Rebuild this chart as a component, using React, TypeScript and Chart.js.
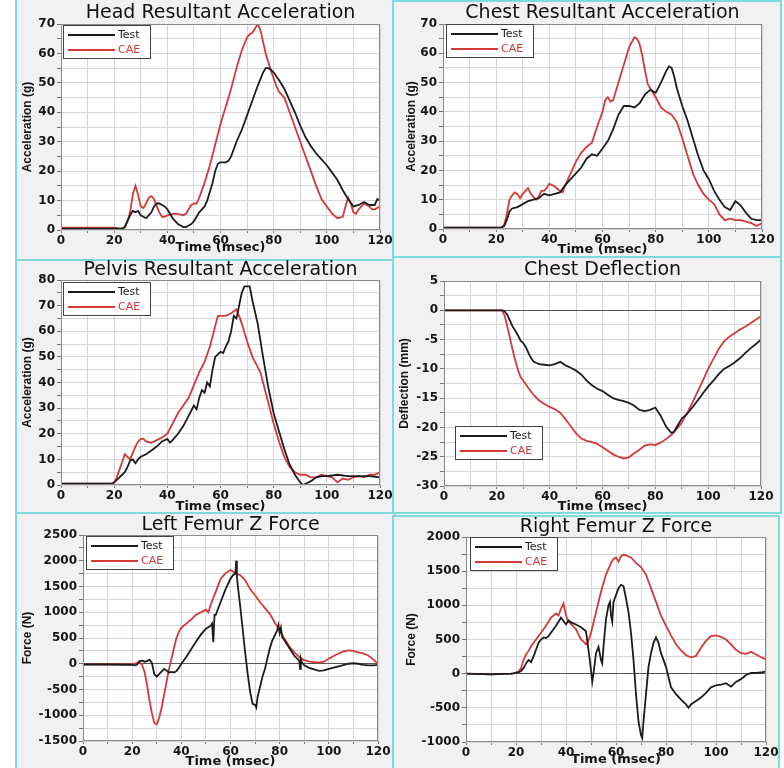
import React, { useEffect, useRef } from 'react';
import { Chart, registerables } from 'chart.js';
Chart.register(...registerables);

type Pt = [number, number];

const seriesNames = ['Test', 'CAE'];
const seriesColors = ['#1c1c1c', '#d23a3a'];
const timeMin = 0;
const timeMax = 120;
const timeStep = 10;
const timeLabelEvery = 20;

const headTest: Pt[] = [[0,0.5],[10,0.5],[20,0.5],[22,0.5],[23,0.5],[24,1],[25,3],[26,5],[27,6.5],[28,6],[29,6.5],[30,5],[31,4.5],[32,4],[33,5],[34,6],[35,8],[36,9],[37,9],[38,8.5],[39,8],[40,7],[41,5.5],[42,4],[43,3],[44,2],[45,1.5],[46,1],[47,1],[48,1.5],[49,2],[50,3],[51,4.5],[52,6],[53,7],[54,8],[55,10],[56,13],[57,16],[58,20],[59,22.5],[60,23],[61,23],[62,23],[63,23.5],[64,25],[66,30],[68,34],[70,39],[72,44],[74,49],[76,53.5],[77,55],[78,55],[79,54.5],[80,53.5],[82,51],[84,48],[86,44],[88,40],[90,35.5],[92,31.5],[94,28.5],[96,26],[98,24],[100,22],[102,19.5],[104,17],[106,13.5],[108,10.5],[110,8],[112,8.5],[114,9.5],[116,8.5],[118,8.5],[119,10.5],[120,10]];
const headCae: Pt[] = [[0,0.8],[10,0.8],[20,0.8],[22,0.5],[23,0.5],[24,1],[25,3],[26,6],[27,12],[28,15],[29,12],[30,8],[31,7.5],[32,9],[33,11],[34,11.5],[35,10.5],[36,8],[37,6],[38,4.5],[39,4.5],[40,5],[42,5.5],[44,5.5],[46,5],[47,5.5],[48,7],[49,8.5],[50,9],[51,9],[52,11],[54,16],[56,22],[58,29],[60,36],[62,42],[64,48],[66,55],[68,61],[70,65.5],[71,66.5],[72,67],[73,68.5],[74,70],[75,68],[76,64],[77,60],[78,57],[79,54],[80,51.5],[81,49],[82,47],[83,46],[84,45],[86,40],[88,35],[90,30],[92,25],[94,20],[96,15],[98,10.5],[100,8],[102,5.5],[104,4],[106,4.5],[107,8],[108,11],[109,9],[110,6],[111,5.5],[112,7],[113,8],[114,9],[115,8.5],[116,8],[117,7],[118,7],[120,8]];

const chestTest: Pt[] = [[0,0.5],[10,0.5],[20,0.5],[22,0.5],[23,1],[24,3],[25,6],[26,7],[28,7.5],[30,8.5],[32,9.5],[34,10],[36,10.5],[38,12],[40,11.5],[42,12],[44,12.5],[46,15],[48,17],[50,19],[52,21],[54,24],[56,25.5],[58,25],[60,27.5],[62,30],[64,34],[66,39],[68,42],[70,42],[72,41.5],[74,43],[76,46],[78,47.5],[80,46.5],[82,50],[84,54],[85,55.5],[86,55],[87,52],[88,48],[90,42],[92,37],[94,31],[96,25],[98,20],[100,17],[102,13],[104,10],[106,7.5],[108,6.5],[110,9.5],[112,8],[114,5.5],[116,3.5],[118,3],[120,3]];
const chestCae: Pt[] = [[0,0.5],[10,0.5],[20,0.5],[22,0.5],[23,1.5],[24,5],[25,10],[26,11.5],[27,12.5],[28,12],[29,10.5],[30,12],[31,13],[32,14],[33,12],[34,11],[35,10],[36,11],[37,13],[38,13],[39,14],[40,15.5],[41,15],[42,14.5],[44,13],[45,12.5],[46,15],[48,19],[50,23],[52,26],[54,28],[56,29.5],[58,35],[60,40],[61,44],[62,45],[63,43.5],[64,44],[66,50],[68,56],[70,62],[72,65.5],[73,65],[74,63],[75,59],[76,54],[77,49.5],[78,48],[80,45],[82,41.5],[84,40],[86,39],[88,36.5],[90,31],[92,25],[94,19],[96,15],[98,12],[100,10],[102,8.5],[104,5],[106,3],[108,3.5],[110,3],[112,3],[114,2.5],[116,2],[118,1],[120,2]];

const pelvisTest: Pt[] = [[0,0.5],[10,0.5],[19,0.5],[20,1],[21,2],[22,3],[23,4],[24,5],[25,7],[26,9.5],[27,10],[28,8.5],[29,10],[30,11],[32,12],[34,13.5],[36,15],[38,17],[40,18],[41,16.5],[42,17.5],[44,20],[46,23],[48,27],[50,31],[51,29.5],[52,34],[53,37],[54,36],[55,40],[56,38.5],[57,45],[58,50],[59,51],[60,52],[61,51.5],[62,54],[63,56],[64,60],[65,66],[66,65],[67,70],[68,75],[69,77.5],[70,77.5],[71,77.5],[72,72],[74,63],[76,50],[78,38],[80,28],[82,21],[84,14],[86,8],[88,4],[90,1],[91,0],[92,0.5],[94,1.5],[96,3],[98,3.5],[100,3.5],[104,4],[108,3.5],[112,3.5],[116,3.5],[120,3]];
const pelvisCae: Pt[] = [[0,0.5],[10,0.5],[19,0.5],[20,1],[21,3],[22,6],[23,9],[24,12],[25,11],[26,10],[27,12.5],[28,15],[29,17],[30,18],[31,18],[32,17],[34,16.5],[36,17.5],[38,18.5],[40,20],[42,24],[44,28],[46,31],[48,34],[50,39],[52,44],[54,48],[56,54],[58,62],[59,66],[60,66],[62,66],[64,67],[66,68.5],[67,66],[68,63],[70,56],[72,50],[74,46],[75,44],[76,40],[78,32],[80,24],[82,17],[84,11],[86,7],[88,5],[90,4],[92,4],[94,3],[96,3],[98,4],[100,3.5],[102,3],[104,1],[106,2.5],[108,2],[110,3],[112,3.5],[114,3],[116,4],[118,4],[120,5]];

const deflTest: Pt[] = [[0,0],[10,0],[20,0],[22,0],[23,-0.2],[24,-0.8],[25,-1.8],[26,-2.8],[27,-3.5],[28,-4.3],[29,-5.2],[30,-5.6],[31,-6.3],[32,-7.3],[33,-8.2],[34,-8.8],[35,-9],[36,-9.2],[38,-9.3],[40,-9.4],[42,-9.2],[44,-8.8],[46,-9.4],[48,-9.8],[50,-10.3],[52,-11],[54,-12],[56,-12.8],[58,-13.4],[60,-13.8],[62,-14.4],[64,-15],[66,-15.3],[68,-15.5],[70,-15.8],[72,-16.3],[74,-17],[76,-17.2],[78,-17],[80,-16.6],[82,-18],[84,-19.8],[86,-20.9],[87,-20.8],[88,-20],[90,-18.5],[92,-17.7],[94,-16.6],[96,-15.4],[98,-14.2],[100,-13],[102,-12],[104,-10.9],[106,-10],[108,-9.5],[110,-8.9],[112,-8.2],[114,-7.3],[116,-6.5],[118,-5.8],[120,-5]];
const deflCae: Pt[] = [[0,0],[10,0],[20,0],[22,0],[23,-1],[24,-2.8],[25,-4.8],[26,-6.8],[27,-8.6],[28,-10.2],[29,-11.4],[30,-12],[32,-13.3],[34,-14.5],[36,-15.4],[38,-16],[40,-16.5],[42,-16.9],[44,-17.5],[46,-18.6],[48,-19.8],[50,-21],[52,-21.9],[54,-22.3],[56,-22.5],[58,-22.8],[60,-23.4],[62,-24],[64,-24.6],[66,-25],[68,-25.3],[70,-25.1],[72,-24.4],[74,-23.8],[76,-23.1],[78,-22.9],[80,-23],[82,-22.6],[84,-22],[86,-21.3],[88,-20.3],[90,-19.2],[92,-17.6],[94,-15.8],[96,-13.9],[98,-12],[100,-10],[102,-8.3],[104,-6.6],[106,-5.3],[108,-4.5],[110,-3.9],[112,-3.3],[114,-2.8],[116,-2.2],[118,-1.6],[120,-1]];

const lFemurTest: Pt[] = [[0,-15],[10,-15],[20,-20],[21,-30],[22,-20],[23,50],[24,60],[25,40],[26,50],[27,80],[28,20],[29,-200],[30,-250],[31,-200],[32,-150],[33,-100],[34,-130],[35,-170],[36,-160],[37,-170],[38,-140],[39,-80],[40,0],[42,130],[44,280],[46,430],[48,570],[50,680],[52,740],[52.5,780],[53,420],[53.5,950],[54,950],[56,1200],[58,1450],[60,1650],[61,1720],[62,1750],[62.3,2000],[62.6,1700],[63,1500],[64,1100],[65,650],[66,200],[67,-200],[68,-550],[69,-780],[70,-800],[70.5,-850],[71,-650],[72,-450],[73,-250],[74,-100],[75,100],[76,300],[77,450],[78,550],[79,650],[79.5,750],[80,600],[80.5,700],[81,520],[82,450],[84,300],[86,150],[88,60],[88.3,-100],[88.6,100],[89,30],[90,-30],[92,-80],[94,-110],[96,-140],[98,-130],[100,-100],[104,-50],[108,0],[110,10],[112,0],[114,-20],[116,-30],[118,-30],[120,-20]];
const lFemurCae: Pt[] = [[0,-10],[10,-10],[20,-10],[21,0],[22,20],[23,30],[24,-20],[25,-150],[26,-400],[27,-700],[28,-950],[29,-1150],[30,-1180],[31,-1050],[32,-850],[33,-600],[34,-350],[35,-100],[36,100],[37,300],[38,500],[39,620],[40,700],[42,780],[44,860],[46,950],[48,1000],[50,1050],[51,1000],[52,1150],[54,1400],[56,1650],[58,1760],[60,1820],[62,1760],[64,1720],[66,1620],[68,1450],[70,1330],[72,1200],[74,1080],[76,970],[78,800],[80,650],[82,480],[84,330],[86,220],[88,130],[90,70],[92,40],[94,30],[96,20],[98,40],[100,100],[102,150],[104,200],[106,240],[108,260],[110,250],[112,220],[114,200],[116,160],[118,90],[119,40],[120,0]];

const rFemurTest: Pt[] = [[0,0],[10,-10],[18,0],[19,5],[20,15],[21,20],[22,40],[23,80],[24,150],[25,200],[26,170],[27,250],[28,350],[29,450],[30,500],[31,530],[32,520],[33,550],[34,600],[35,650],[36,700],[37,760],[38,820],[39,770],[40,720],[41,780],[42,750],[44,720],[46,680],[47,650],[48,620],[49,350],[50,50],[50.5,-120],[51,0],[52,300],[53,390],[54,200],[54.5,150],[55,400],[56,800],[57,1000],[57.6,1050],[58,850],[58.5,760],[59,1050],[60,1150],[61,1250],[62,1300],[63,1280],[64,1100],[65,900],[66,600],[67,200],[68,-300],[69,-700],[70,-900],[70.5,-940],[71,-700],[72,-300],[73,100],[74,300],[75,450],[76,530],[77,450],[78,300],[80,100],[82,-200],[84,-300],[86,-380],[88,-450],[89,-500],[90,-450],[92,-400],[94,-350],[96,-280],[98,-200],[100,-170],[102,-160],[104,-140],[106,-190],[108,-120],[110,-80],[112,-20],[114,10],[116,10],[118,20],[120,30]];
const rFemurCae: Pt[] = [[0,0],[10,-10],[18,0],[19,5],[20,15],[21,30],[22,80],[23,200],[24,280],[25,330],[26,400],[28,500],[30,600],[32,700],[34,820],[36,880],[37,850],[38,950],[39,1030],[40,850],[41,760],[42,730],[44,650],[46,500],[47,470],[48,430],[49,480],[50,600],[52,900],[54,1200],[56,1450],[58,1620],[59,1680],[60,1700],[61,1640],[62,1720],[63,1740],[64,1730],[66,1700],[68,1620],[70,1560],[72,1450],[74,1250],[76,1050],[78,850],[80,700],[82,560],[84,430],[86,340],[88,270],[90,240],[92,260],[94,380],[96,480],[98,550],[100,560],[102,540],[104,500],[106,430],[108,350],[110,300],[112,290],[114,320],[116,280],[118,240],[120,210]];

const FONT = '"DejaVu Sans", "Liberation Sans", sans-serif';
const AXIS_FONT = '"Liberation Sans", Arial, sans-serif';

type Box = { x: number; y: number; w: number; h: number };
type PanelCfg = {
  title: string;
  yTitle: string;
  yMin: number; yMax: number; yStep: number; yLabelEvery: number;
  zeroLine: boolean;
  series: Pt[][];
  panel: Box;
  canvas: Box;
  plot: { L: number; T: number; R: number; B: number };
  titleY: number; xTitleY: number; yTitleX: number;
  legend: { corner: 'tl' | 'bl'; dx: number; dy: number };
};

const panels: PanelCfg[] = [
  { title: 'Head Resultant Acceleration', yTitle: 'Acceleration (g)', yMin: 0, yMax: 70, yStep: 5, yLabelEvery: 10, zeroLine: false,
    series: [headTest, headCae], panel: { x: 15, y: -2, w: 381, h: 263 }, canvas: { x: 16, y: 0, w: 380, h: 262 },
    plot: { L: 61, T: 24, R: 380, B: 230 }, titleY: 13, xTitleY: 248, yTitleX: 28, legend: { corner: 'tl', dx: 2, dy: 1 } },
  { title: 'Chest Resultant Acceleration', yTitle: 'Acceleration (g)', yMin: 0, yMax: 70, yStep: 5, yLabelEvery: 10, zeroLine: false,
    series: [chestTest, chestCae], panel: { x: 392, y: 0, w: 390, h: 259 }, canvas: { x: 392, y: 0, w: 392, h: 262 },
    plot: { L: 443, T: 24, R: 762, B: 229 }, titleY: 13, xTitleY: 250, yTitleX: 412, legend: { corner: 'tl', dx: 3, dy: 0 } },
  { title: 'Pelvis Resultant Acceleration', yTitle: 'Acceleration (g)', yMin: 0, yMax: 80, yStep: 5, yLabelEvery: 10, zeroLine: false,
    series: [pelvisTest, pelvisCae], panel: { x: 15, y: 259, w: 381, h: 256 }, canvas: { x: 16, y: 258, w: 380, h: 257 },
    plot: { L: 61, T: 280, R: 380, B: 485 }, titleY: 270, xTitleY: 507, yTitleX: 28, legend: { corner: 'tl', dx: 2, dy: 2 } },
  { title: 'Chest Deflection', yTitle: 'Deflection (mm)', yMin: -30, yMax: 5, yStep: 2.5, yLabelEvery: 5, zeroLine: true,
    series: [deflTest, deflCae], panel: { x: 392, y: 256, w: 390, h: 258 }, canvas: { x: 392, y: 258, w: 392, h: 257 },
    plot: { L: 444, T: 281, R: 761, B: 486 }, titleY: 270, xTitleY: 507, yTitleX: 405, legend: { corner: 'bl', dx: 11, dy: 26 } },
  { title: 'Left Femur Z Force', yTitle: 'Force (N)', yMin: -1500, yMax: 2500, yStep: 250, yLabelEvery: 500, zeroLine: true,
    series: [lFemurTest, lFemurCae], panel: { x: 15, y: 512, w: 381, h: 260 }, canvas: { x: 16, y: 513, w: 380, h: 258 },
    plot: { L: 83, T: 535, R: 378, B: 741 }, titleY: 525, xTitleY: 762, yTitleX: 28, legend: { corner: 'tl', dx: 3, dy: 1 } },
  { title: 'Right Femur Z Force', yTitle: 'Force (N)', yMin: -1000, yMax: 2000, yStep: 250, yLabelEvery: 500, zeroLine: true,
    series: [rFemurTest, rFemurCae], panel: { x: 392, y: 515, w: 388, h: 257 }, canvas: { x: 392, y: 513, w: 392, h: 258 },
    plot: { L: 466, T: 537, R: 766, B: 742 }, titleY: 527, xTitleY: 760, yTitleX: 412, legend: { corner: 'tl', dx: 4, dy: 0 } },
];

const framePlugin = {
  id: 'boxLegend',
  beforeDraw(chart: any) {
    const { ctx, chartArea: a } = chart;
    ctx.save();
    ctx.fillStyle = '#ffffff';
    ctx.fillRect(a.left, a.top, a.right - a.left, a.bottom - a.top);
    ctx.restore();
  },
  afterDatasetsDraw(chart: any, _args: any, opts: any) {
    const { ctx, chartArea: a } = chart;
    ctx.save();
    ctx.strokeStyle = '#8a8a8a';
    ctx.lineWidth = 1;
    ctx.strokeRect(Math.round(a.left) + 0.5, Math.round(a.top) + 0.5, Math.round(a.right - a.left) - 1, Math.round(a.bottom - a.top) - 1);
    const w = 88, h = 34;
    const x = Math.round(a.left + opts.dx);
    const y = Math.round(opts.corner === 'bl' ? a.bottom - opts.dy - h : a.top + opts.dy);
    ctx.fillStyle = '#ffffff';
    ctx.fillRect(x, y, w, h);
    ctx.strokeStyle = '#444444';
    ctx.strokeRect(x + 0.5, y + 0.5, w - 1, h - 1);
    ctx.font = '11px ' + FONT;
    ctx.textBaseline = 'middle';
    ctx.textAlign = 'left';
    chart.data.datasets.forEach((ds: any, i: number) => {
      const ly = y + 10 + i * 15;
      ctx.strokeStyle = ds.borderColor;
      ctx.lineWidth = 1.8;
      ctx.beginPath();
      ctx.moveTo(x + 5, ly);
      ctx.lineTo(x + 52, ly);
      ctx.stroke();
      ctx.fillStyle = ds.borderColor;
      ctx.fillText(ds.label, x + 55, ly + 0.5);
    });
    ctx.restore();
  },
};

function ChartPanel({ cfg }: { cfg: PanelCfg }) {
  const ref = useRef<HTMLCanvasElement | null>(null);
  useEffect(() => {
    if (!ref.current) return;
    const c = cfg.canvas;
    const yAxisW = cfg.plot.L - c.x;
    const xAxisH = c.y + c.h - cfg.plot.B;
    const padRight = c.x + c.w - cfg.plot.R;
    const titleSize = 19;
    const titleTop = cfg.titleY - c.y - titleSize / 2;
    const titleBottom = Math.max(0, cfg.plot.T - c.y - titleSize - titleTop);
    const xTitleSize = 13;
    const xTitleBottom = Math.max(0, c.y + c.h - cfg.xTitleY - xTitleSize / 2);
    const yTitleSize = 12;
    const yTitleTop = Math.max(0, cfg.yTitleX - c.x - yTitleSize / 2);
    const tickFont = { family: FONT, size: 12, weight: 'bold' as const };

    const chart = new Chart(ref.current, {
      type: 'line',
      data: {
        datasets: cfg.series.map((s, i) => ({
          label: seriesNames[i],
          data: s.map(([x, y]) => ({ x, y })),
          borderColor: seriesColors[i],
          backgroundColor: seriesColors[i],
          borderWidth: 1.8,
          pointRadius: 0,
          tension: 0,
          fill: false,
        })),
      },
      options: {
        responsive: false,
        animation: false,
        devicePixelRatio: 1,
        events: [],
        layout: { padding: { left: 0, right: padRight, top: 0, bottom: 0 } },
        plugins: {
          legend: { display: false },
          tooltip: { enabled: false },
          title: {
            display: true,
            text: cfg.title,
            fullSize: false,
            color: '#111111',
            font: { family: FONT, size: titleSize, weight: 'normal', lineHeight: 1 },
            padding: { top: titleTop, bottom: titleBottom },
          },
          boxLegend: cfg.legend,
        } as any,
        scales: {
          x: {
            type: 'linear',
            min: timeMin,
            max: timeMax,
            afterFit: (s: any) => { s.height = xAxisH; },
            ticks: {
              stepSize: timeStep,
              autoSkip: false,
              maxRotation: 0,
              padding: 1,
              color: '#151515',
              font: tickFont,
              callback: (v: any) => (Number(v) % timeLabelEvery === 0 ? String(v) : ''),
            },
            grid: { color: '#d6d6d6', tickLength: 3, tickColor: '#777777', lineWidth: 1 },
            border: { display: false },
            title: {
              display: true,
              text: 'Time (msec)',
              color: '#151515',
              font: { family: FONT, size: xTitleSize, weight: 'bold', lineHeight: 1 },
              padding: { top: 0, bottom: xTitleBottom },
            },
          },
          y: {
            type: 'linear',
            min: cfg.yMin,
            max: cfg.yMax,
            afterFit: (s: any) => { s.width = yAxisW; },
            ticks: {
              stepSize: cfg.yStep,
              autoSkip: false,
              padding: 2,
              color: '#151515',
              font: tickFont,
              callback: (v: any) => (Number(v) % cfg.yLabelEvery === 0 ? String(v) : ''),
            },
            grid: {
              color: (ctx: any) => (cfg.zeroLine && ctx.tick && ctx.tick.value === 0 ? '#555555' : '#d6d6d6'),
              tickLength: 4,
              tickColor: '#777777',
              lineWidth: 1,
            },
            border: { display: false },
            title: {
              display: true,
              text: cfg.yTitle,
              color: '#151515',
              font: { family: AXIS_FONT, size: yTitleSize, weight: 'bold', lineHeight: 1 },
              padding: { top: yTitleTop, bottom: 0 },
            },
          },
        },
      } as any,
      plugins: [framePlugin as any],
    });
    return () => chart.destroy();
  }, [cfg]);

  return (
    <canvas
      ref={ref}
      width={cfg.canvas.w}
      height={cfg.canvas.h}
      style={{ position: 'absolute', left: cfg.canvas.x, top: cfg.canvas.y, width: cfg.canvas.w, height: cfg.canvas.h, display: 'block' }}
    />
  );
}

export default function App() {
  return (
    <div style={{ position: 'absolute', left: 0, top: 0, width: 784, height: 768, overflow: 'hidden', background: '#ffffff' }}>
      {panels.map((p, i) => (
        <div
          key={'bg' + i}
          style={{
            position: 'absolute',
            left: p.panel.x,
            top: p.panel.y,
            width: p.panel.w,
            height: p.panel.h,
            boxSizing: 'border-box',
            border: '2px solid #7fd9e0',
            background: '#f1f0f3',
          }}
        />
      ))}
      {panels.map((p, i) => (
        <ChartPanel key={'c' + i} cfg={p} />
      ))}
    </div>
  );
}
